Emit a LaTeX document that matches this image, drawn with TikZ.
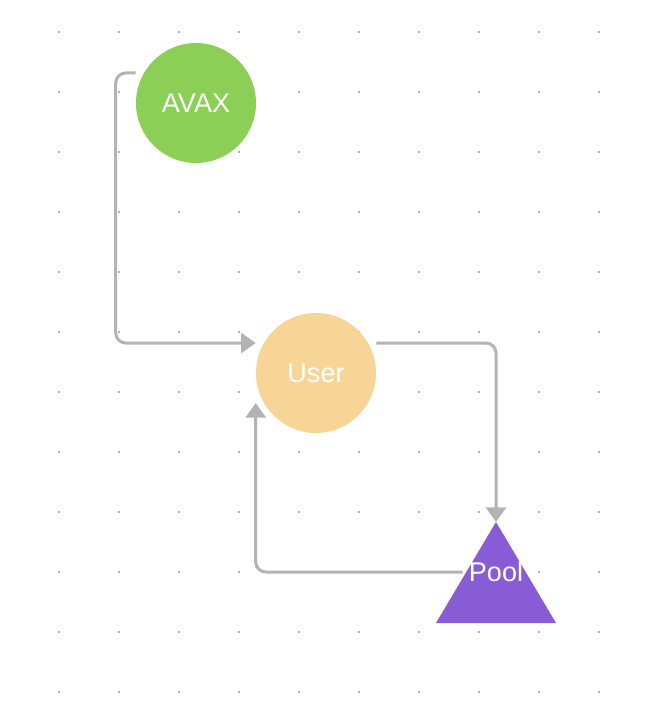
\documentclass[tikz,border=0pt]{standalone}
\usepackage{fontspec}
\setmainfont{Liberation Sans}
\usepackage{tikz}
\usepackage{xcolor}
\usetikzlibrary{arrows.meta}
\usetikzlibrary{shapes}

\definecolor{avaxgreen}{RGB}{139,207,86}
\definecolor{userorange}{RGB}{247,213,150}
\definecolor{poolpurple}{RGB}{137,92,214}
\definecolor{linegray}{RGB}{179,179,179}
\definecolor{dotgray}{RGB}{178,178,178}

\tikzset{
  token/.style={circle, minimum size=90pt, inner sep=0pt, text=white, font=\fontsize{20.3}{24}\selectfont},
  flow/.style={draw=linegray, line width=2.25pt, rounded corners=7.5pt, -{Triangle[length=11pt,width=15pt]}},
}

\begin{document}
\begin{tikzpicture}[x=0.75pt,y=0.75pt,yscale=-1,xscale=1]
\useasboundingbox (0,0) rectangle (658,720);

%Grid dots
\foreach \x in {59,119,...,599}
  \foreach \y in {32,92,...,692}
    \fill[dotgray] (\x-1,\y-1) rectangle ++(2,2);

%Shape: Circle
\node[token, fill=avaxgreen] (avax) at (196,103) {AVAX};
%Shape: Circle
\node[token, fill=userorange] (user) at (316,373) {User};
%Shape: Triangle
\fill[poolpurple] (496,522) coordinate (poolapex) -- (556,623) -- (436,623) -- cycle;
% Text Node
\node[text=white, font=\fontsize{20.3}{24}\selectfont, inner sep=4.5pt] (pool) at (496,572) {Pool};

%Connectors
\draw[flow] ([yshift=-22.5pt]avax.west) -- ++(-20,0) |- ([yshift=-22.5pt]user.west);
\draw[flow] ([yshift=-22.5pt]user.east) -| (poolapex);
\draw[flow] (pool.west) -| ([yshift=22.5pt]user.west);

\end{tikzpicture}
\end{document}
